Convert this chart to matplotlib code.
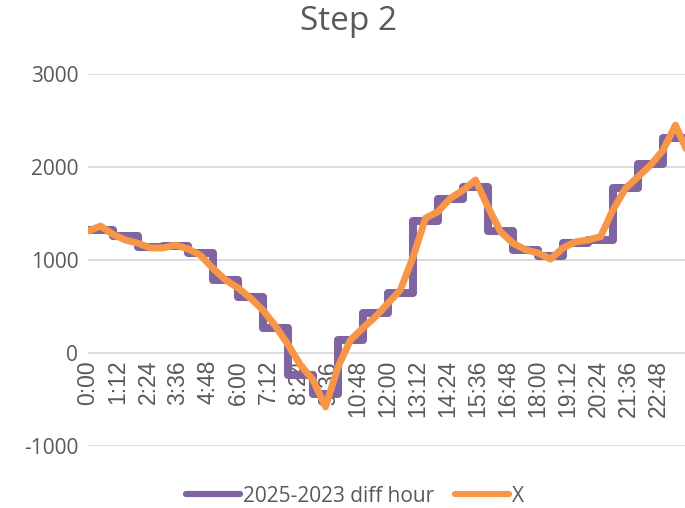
import numpy as np
import matplotlib.pyplot as plt

# hourly step values (2025-2023 diff hour), one per hour 0..23
step_hours = list(range(24))
step_values = [1320, 1260, 1140, 1150, 1075, 790, 600, 270, -235, -440,
               145, 430, 650, 1415, 1655, 1790, 1310, 1105, 1045, 1185,
               1215, 1775, 2035, 2310]

# series X, sampled every 30 minutes
x_hours = [i * 0.5 for i in range(49)]
x_values = [1310, 1365, 1275, 1215, 1180, 1130, 1130, 1160, 1120, 1050,
            910, 785, 700, 590, 460, 290, 90, -130, -290, -580,
            -150, 140, 270, 390, 535, 680, 1030, 1450, 1520, 1665,
            1750, 1860, 1570, 1305, 1180, 1110, 1075, 1010, 1130, 1195,
            1215, 1250, 1540, 1770, 1895, 2020, 2180, 2450, 2150]

tick_labels = ['0:00', '1:12', '2:24', '3:36', '4:48', '6:00', '7:12', '8:24',
               '9:36', '10:48', '12:00', '13:12', '14:24', '15:36', '16:48',
               '18:00', '19:12', '20:24', '21:36', '22:48']
tick_pos = [i * 1.2 for i in range(len(tick_labels))]

purple = '#8064A2'
orange = '#F79646'
text_col = '#595959'

plt.rcParams['font.family'] = ['Open Sans', 'DejaVu Sans']
plt.rcParams['axes.unicode_minus'] = False

fig = plt.figure(figsize=(6.85, 5.08), dpi=100)
ax = fig.add_axes([88 / 685, 1 - 446 / 508, 1 - 88 / 685, (446 - 74) / 508])

# step line: extend last hour to the end of the day
sx = step_hours + [24]
sy = step_values + [step_values[-1]]
ax.plot(sx, sy, drawstyle='steps-post', color=purple, lw=5.8,
        solid_joinstyle='round', solid_capstyle='butt', label='2025-2023 diff hour',
        zorder=3)
ax.plot(x_hours, x_values, color=orange, lw=5.0, solid_joinstyle='round',
        solid_capstyle='round', label='X', zorder=4)

ax.set_xlim(0, 597 / 25)
ax.set_ylim(-1000, 3000)
ax.set_yticks([-1000, 0, 1000, 2000, 3000])
ax.grid(axis='y', color='#d9d9d9', lw=1.3)
ax.set_axisbelow(True)
for s in ax.spines.values():
    s.set_visible(False)
ax.spines['bottom'].set_position(('data', 0))

ax.set_xticks(tick_pos)
ax.set_xticklabels(tick_labels, rotation=90, fontsize=16.5,
                   family=['Liberation Sans', 'DejaVu Sans'])
ax.tick_params(axis='x', length=0, pad=5, colors=text_col)
ax.tick_params(axis='y', length=0, pad=7, colors=text_col, labelsize=15)

fig.text(349 / 685, 1 - 22 / 508, 'Step 2', ha='center', va='center',
         fontsize=24, color=text_col)

leg = fig.legend(loc='center', bbox_to_anchor=(355 / 685, 1 - 496 / 508), ncol=2,
                 frameon=False, fontsize=15, labelcolor=text_col, handlelength=2.6,
                 columnspacing=1.0, handletextpad=0.15)
for line in leg.get_lines():
    line.set_linewidth(4.5)
    line.set_solid_capstyle('round')

fig.savefig('out.png', dpi=100)
